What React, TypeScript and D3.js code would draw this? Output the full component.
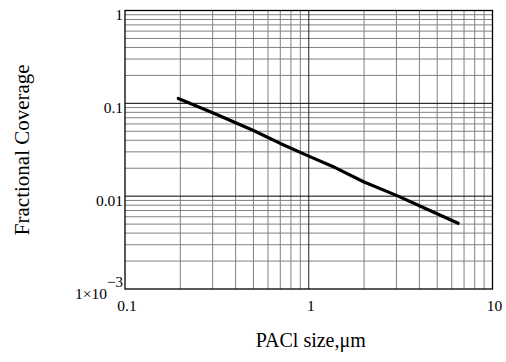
import React from "react";
import * as d3 from "d3";

const sizes = [0.195, 0.3, 0.5, 0.7, 1, 1.4, 2, 3, 4, 6.5];
const coverage = [0.113, 0.079, 0.051, 0.037, 0.027, 0.0202, 0.0142, 0.0102, 0.0079, 0.0051];
const xTicks = [0.1, 1, 10];
const xTickLabels = ["0.1", "1", "10"];
const yTicks = [1, 0.1, 0.01];
const yTickLabels = ["1", "0.1", "0.01"];

const W = 506, H = 362;
const L = 125, R = 492.5, T = 10.5, B = 289;
const FONT = "'Liberation Serif', 'Times New Roman', serif";

export default function App() {
  const x = d3.scaleLog().domain([0.1, 10]).range([L, R]);
  const y = d3.scaleLog().domain([0.001, 1]).range([B, T]);

  const minorX: number[] = [];
  const minorY: number[] = [];
  [0.1, 1].forEach((d) => { for (let k = 2; k <= 9; k++) minorX.push(d * k); });
  [0.001, 0.01, 0.1].forEach((d) => { for (let k = 2; k <= 9; k++) minorY.push(d * k); });

  const line = d3.line<number>().x((_, i) => x(sizes[i])).y((d) => y(d));

  return (
    <svg width={W} height={H} style={{ position: "absolute", left: 0, top: 0 }}>
      <rect x={0} y={0} width={W} height={H} fill="#fff" />
      {minorX.map((v, i) => (
        <line key={"mx" + i} x1={x(v)} x2={x(v)} y1={T} y2={B} stroke="#808080" strokeWidth={1} />
      ))}
      {minorY.map((v, i) => (
        <line key={"my" + i} x1={L} x2={R} y1={y(v)} y2={y(v)} stroke="#808080" strokeWidth={1} />
      ))}
      <line x1={x(1)} x2={x(1)} y1={T} y2={B} stroke="#222" strokeWidth={1} />
      {[0.1, 0.01].map((v) => (
        <line key={"My" + v} x1={L} x2={R} y1={y(v)} y2={y(v)} stroke="#000" strokeWidth={1} />
      ))}
      <rect x={L} y={T} width={R - L} height={B - T} fill="none" stroke="#000" strokeWidth={1.3} />
      <path d={line(coverage) || ""} fill="none" stroke="#000" strokeWidth={3.2} strokeLinecap="round" strokeLinejoin="round" />
      {yTicks.map((v, i) => (
        <text key={"yt" + i} x={123} y={y(v) + 9.5} textAnchor="end" fontFamily={FONT} fontSize={15.5} fill="#000">
          {yTickLabels[i]}
        </text>
      ))}
      <text x={123} y={y(0.001) + 9.5} textAnchor="end" fontFamily={FONT} fontSize={15.5} fill="#000">
        1×10<tspan dy={-12} fontSize={15}>−3</tspan>
      </text>
      {xTicks.map((v, i) => (
        <text key={"xt" + i} x={x(v) + 2} y={311} textAnchor="middle" fontFamily={FONT} fontSize={15.5} fill="#000">
          {xTickLabels[i]}
        </text>
      ))}
      <text x={(L + R) / 2 + 2} y={347} textAnchor="middle" fontFamily={FONT} fontSize={20} fill="#000">
        PACl size,μm
      </text>
      <text transform={`translate(28.5, ${(T + B) / 2}) rotate(-90)`} textAnchor="middle" fontFamily={FONT} fontSize={21} fill="#000">
        Fractional Coverage
      </text>
    </svg>
  );
}
